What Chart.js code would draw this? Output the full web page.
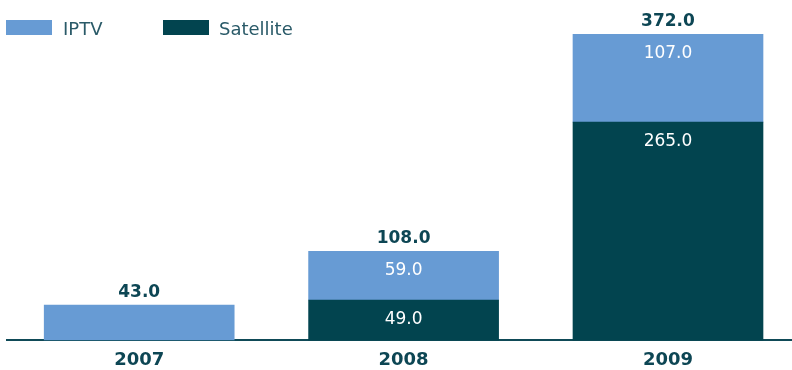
<!DOCTYPE html>
<html>
<head>
<meta charset="utf-8">
<script src="https://cdn.jsdelivr.net/npm/chart.js@4"></script>
<style>
  html, body { margin: 0; padding: 0; background: #fff; }
  #wrap { width: 792px; height: 370px; position: relative; }
</style>
</head>
<body>
<div id="wrap"><canvas id="tvChart"></canvas></div>
<script>
// --- data ---
const years = ['2007', '2008', '2009'];
const satellite = [0, 49, 265];
const iptv = [43, 59, 107];

const colorIptv = '#679bd4';
const colorSat = '#02444f';
const textDark = '#0d4654';
const textLegend = '#2a5a68';
const fontFamily = '"DejaVu Sans", sans-serif';

// legend entries in the order they are shown (top-left)
const legendItems = [
    { label: 'IPTV', color: colorIptv, boxX: 6, textX: 63 },
    { label: 'Satellite', color: colorSat, boxX: 163, textX: 219 }
];

// draws values inside segments, totals above bars and the legend
const labelPlugin = {
    id: 'valueLabels',
    afterDatasetsDraw(chart) {
        const ctx = chart.ctx;
        const metas = chart.data.datasets.map((ds, i) => chart.getDatasetMeta(i));
        ctx.save();
        ctx.textAlign = 'center';
        ctx.textBaseline = 'alphabetic';

        years.forEach((year, idx) => {
            const total = chart.data.datasets.reduce((s, ds) => s + ds.data[idx].y, 0);
            let topY = null;
            metas.forEach((meta, di) => {
                const v = chart.data.datasets[di].data[idx].y;
                const bar = meta.data[idx];
                if (!v) return;
                if (topY === null || bar.y < topY) topY = bar.y;
                if (v === total) return; // single segment: only the total is shown
                ctx.fillStyle = '#ffffff';
                ctx.font = '17px ' + fontFamily;
                ctx.fillText(v.toFixed(1), bar.x, bar.y + 23.5);
            });
            const x = metas[0].data[idx].x;
            ctx.fillStyle = textDark;
            ctx.font = 'bold 17px ' + fontFamily;
            ctx.fillText(total.toFixed(1), x, topY - 8);
        });

        // legend
        ctx.textAlign = 'left';
        ctx.font = '18px ' + fontFamily;
        legendItems.forEach(item => {
            ctx.fillStyle = item.color;
            ctx.fillRect(item.boxX, 20, 46, 15);
            ctx.fillStyle = textLegend;
            ctx.fillText(item.label, item.textX, 34.5);
        });
        ctx.restore();
    }
};

const ctx = document.getElementById('tvChart').getContext('2d');
new Chart(ctx, {
    type: 'bar',
    data: {
        datasets: [
            {
                label: 'Satellite',
                data: satellite.map((v, i) => ({ x: i, y: v })),
                backgroundColor: colorSat,
                barThickness: 190
            },
            {
                label: 'IPTV',
                data: iptv.map((v, i) => ({ x: i, y: v })),
                backgroundColor: colorIptv,
                barThickness: 190
            }
        ]
    },
    options: {
        responsive: true,
        maintainAspectRatio: false,
        animation: false,
        layout: { padding: { top: 34, left: 7, right: 0, bottom: -10 } },
        plugins: {
            legend: { display: false },
            tooltip: { enabled: false }
        },
        scales: {
            x: {
                type: 'linear',
                stacked: true,
                offset: false,
                min: -0.5,
                max: 2.469,
                afterBuildTicks: scale => { scale.ticks = years.map((y, i) => ({ value: i })); },
                grid: { display: false, drawTicks: false, offset: false },
                border: { display: true, color: '#0f4a57', width: 2 },
                ticks: {
                    padding: 9,
                    color: textDark,
                    font: { family: fontFamily, size: 18, weight: 'bold' },
                    callback: value => years[value] ?? ''
                }
            },
            y: {
                stacked: true,
                display: false,
                min: 0,
                max: 372
            }
        }
    },
    plugins: [labelPlugin]
});
</script>
</body>
</html>
